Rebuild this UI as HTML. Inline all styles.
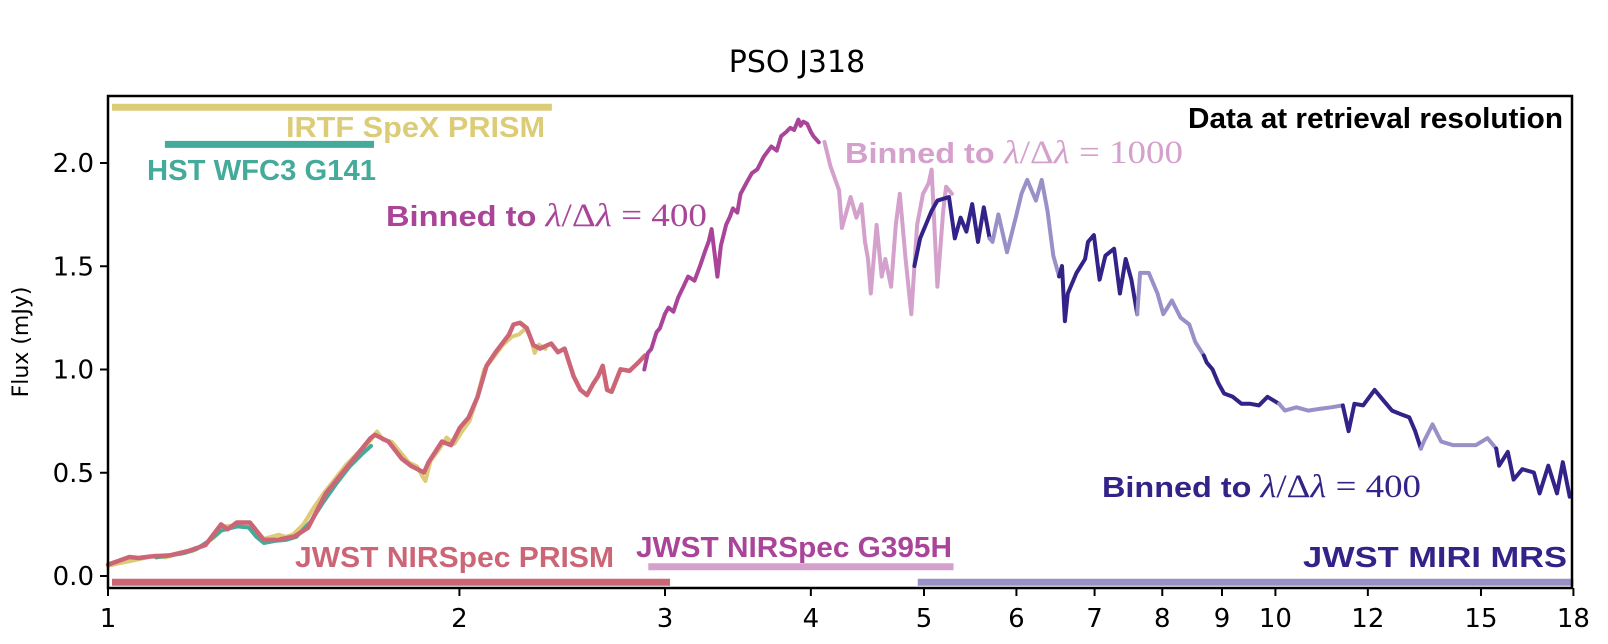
<!DOCTYPE html>
<html><head><meta charset="utf-8"><style>
html,body{margin:0;padding:0;background:#fff;}
svg{display:block;font-family:"DejaVu Sans","Liberation Sans",sans-serif;}
.lb{font-family:"Liberation Sans",sans-serif;font-weight:bold;}
.mt{font-family:"Liberation Serif",serif;font-weight:normal;}
</style></head><body>
<svg id="chart" width="1608" height="644" viewBox="0 0 1608 644" xmlns="http://www.w3.org/2000/svg">
<text x="797" y="72" font-size="30" text-anchor="middle">PSO J318</text>
<text transform="translate(28,342) rotate(-90)" font-size="22" text-anchor="middle">Flux (mJy)</text>
<g id="marks"></g>
<rect x="108" y="96" width="1464" height="492" fill="none" stroke="#000" stroke-width="2.5"/>
<g id="axes"></g>
<g>
<text class="lb" x="286" y="137" font-size="29" fill="#ddcc77" textLength="259" lengthAdjust="spacingAndGlyphs">IRTF SpeX PRISM</text>
<text class="lb" x="147" y="180" font-size="29" fill="#44aa99" textLength="229" lengthAdjust="spacingAndGlyphs">HST WFC3 G141</text>
<text class="lb" x="386" y="226" font-size="29" fill="#aa4499" textLength="321" lengthAdjust="spacingAndGlyphs">Binned to <tspan class="mt" font-size="33"><tspan font-style="italic">λ</tspan>/Δ<tspan font-style="italic">λ</tspan> = 400</tspan></text>
<text class="lb" x="1188" y="128" font-size="29" fill="#000" textLength="375" lengthAdjust="spacingAndGlyphs">Data at retrieval resolution</text>
<text class="lb" x="845" y="163" font-size="29" fill="#d4a0cc" textLength="338" lengthAdjust="spacingAndGlyphs">Binned to <tspan class="mt" font-size="33"><tspan font-style="italic">λ</tspan>/Δ<tspan font-style="italic">λ</tspan> = 1000</tspan></text>
<text class="lb" x="1102" y="497" font-size="29" fill="#332288" textLength="319" lengthAdjust="spacingAndGlyphs">Binned to <tspan class="mt" font-size="33"><tspan font-style="italic">λ</tspan>/Δ<tspan font-style="italic">λ</tspan> = 400</tspan></text>
<text class="lb" x="295" y="567" font-size="29" fill="#cc6677" textLength="319" lengthAdjust="spacingAndGlyphs">JWST NIRSpec PRISM</text>
<text class="lb" x="636" y="557" font-size="29" fill="#aa4499" textLength="316" lengthAdjust="spacingAndGlyphs">JWST NIRSpec G395H</text>
<text class="lb" x="1303" y="567" font-size="29" fill="#332288" textLength="264" lengthAdjust="spacingAndGlyphs">JWST MIRI MRS</text>
</g>
</svg>
<script>
// ---- data ----
var xTicks = [1,2,3,4,5,6,7,8,9,10,12,15,18];
var yTicks = [0.0,0.5,1.0,1.5,2.0];
var bandNames = ["irtf","hst","prism","g395h","miri"];
var bandStart = [1.0,1.11,1.0,2.88,4.9];
var bandEnd = [2.4,1.69,3.03,5.3,18];
var bandFlux = [2.27,2.09,-0.03,0.045,-0.03];
var bandColor = ["#ddcc77","#44aa99","#cc6677","#d4a0cc","#9a90c8"];

var irtfWave = [1.0,1.02,1.04,1.06,1.08,1.1,1.12,1.15,1.18,1.21,1.24,1.26,1.28,1.30,1.32,1.34,1.36,1.38,1.40,1.42,1.44,1.47,1.50,1.53,1.56,1.60,1.64,1.68,1.70,1.72,1.75,1.78,1.81,1.84,1.86,1.87,1.89,1.92,1.95,1.98,2.01,2.04,2.07,2.10,2.14,2.18,2.22,2.25,2.28,2.30,2.32,2.34,2.37];
var irtfFlux = [.05,.06,.07,.08,.09,.10,.09,.11,.12,.15,.20,.24,.245,.25,.245,.22,.18,.19,.20,.19,.20,.25,.33,.40,.46,.54,.60,.66,.70,.66,.65,.60,.55,.53,.48,.46,.56,.61,.67,.64,.70,.75,.86,1.00,1.06,1.12,1.16,1.17,1.20,1.16,1.08,1.12,1.10];
var hstWave = [1.10,1.13,1.16,1.19,1.22,1.25,1.27,1.29,1.32,1.34,1.36,1.39,1.42,1.45,1.49,1.53,1.57,1.61,1.65,1.68];
var hstFlux = [.09,.10,.11,.13,.17,.22,.23,.24,.235,.19,.16,.17,.175,.19,.26,.36,.45,.53,.59,.63];
var prismWave = [1.0,1.005,1.043,1.062,1.090,1.129,1.170,1.212,1.250,1.266,1.289,1.323,1.341,1.359,1.395,1.445,1.484,1.537,1.606,1.678,1.693,1.739,1.785,1.817,1.865,1.882,1.932,1.967,2.002,2.037,2.073,2.110,2.148,2.205,2.225,2.254,2.284,2.314,2.345,2.397,2.429,2.461,2.505,2.539,2.572,2.606,2.629,2.653,2.676,2.700,2.748,2.797,2.846,2.884];
var prismFlux = [.055,.059,.092,.087,.095,.100,.120,.150,.250,.226,.259,.259,.217,.175,.175,.192,.234,.400,.534,.667,.684,.651,.568,.534,.501,.551,.651,.634,.718,.768,.868,1.018,1.084,1.168,1.218,1.226,1.201,1.118,1.101,1.126,1.084,1.101,.967,.901,.876,.934,.967,1.018,.901,.892,1.001,.993,1.034,1.068];
var g395Wave = [2.88,2.90,2.92,2.95,2.97,3.00,3.02,3.05,3.08,3.11,3.14,3.18,3.214,3.25,3.27,3.289,3.31,3.327,3.35,3.384,3.41,3.43,3.46,3.482,3.52,3.56,3.60,3.645,3.70,3.74,3.772,3.81,3.84,3.87,3.903,3.92,3.94,3.971,4.00,4.02,4.063];
var g395Flux = [1.00,1.08,1.10,1.18,1.20,1.27,1.30,1.28,1.35,1.40,1.45,1.43,1.50,1.58,1.62,1.68,1.55,1.45,1.60,1.70,1.74,1.78,1.76,1.85,1.90,1.95,1.97,2.03,2.08,2.06,2.13,2.15,2.17,2.16,2.21,2.18,2.20,2.19,2.15,2.13,2.10];
var g395bWave = [4.109,4.157,4.229,4.253,4.326,4.376,4.42,4.451,4.477,4.502,4.554,4.60,4.633,4.686,4.73,4.767,4.822,4.876,4.933,4.990,5.047,5.076,5.134,5.193,5.223,5.283];
var g395bFlux = [2.102,1.985,1.868,1.685,1.835,1.735,1.80,1.618,1.535,1.368,1.700,1.45,1.535,1.401,1.70,1.851,1.535,1.268,1.700,1.851,1.902,1.968,1.401,1.768,1.885,1.851];
var miriWave = [4.906,4.962,5.076,5.134,5.253,5.313,5.374,5.436,5.499,5.562,5.626,5.691,
 5.724,5.790,5.889,5.991,6.060,6.129,6.235,6.307,6.379,6.453,6.527,
 6.564,6.602,6.640,6.755,6.871,6.910,6.990,7.070,7.151,7.275,7.358,7.443,7.528,7.614,
 7.658,7.790,7.925,8.016,8.154,8.295,8.438,8.536,8.683,
 8.733,8.833,8.934,9.038,9.194,9.353,9.514,9.679,9.845,10.073,
 10.189,10.423,10.665,10.911,11.164,11.421,
 11.552,11.686,11.887,12.161,12.371,12.585,12.802,13.023,13.174,13.325,
 13.401,13.632,13.867,14.188,14.516,14.852,15.195,15.457,
 15.547,15.815,15.996,16.274,16.649,16.840,17.131,17.427,17.627,17.870];
var miriFlux = [1.501,1.635,1.768,1.818,1.835,1.635,1.735,1.668,1.801,1.618,1.785,1.635,
 1.618,1.751,1.568,1.735,1.851,1.918,1.818,1.918,1.768,1.551,1.451,
 1.501,1.234,1.368,1.468,1.535,1.618,1.651,1.435,1.551,1.585,1.368,1.535,1.435,1.268,
 1.468,1.468,1.368,1.268,1.334,1.251,1.218,1.134,1.068,
 1.034,1.001,.934,.884,.868,.834,.834,.826,.868,.834,
 .801,.817,.801,.809,.817,.826,
 .701,.834,.826,.901,.851,.801,.784,.768,.701,.617,
 .651,.734,.651,.634,.634,.634,.668,.617,
 .534,.601,.467,.517,.501,.400,.534,.400,.551,.384];
var miriSegEnd = [5.70,6.54,7.63,8.70,10.10,11.50,13.35,15.50,18.1];
var miriSegColor = ["#332288","#9a90c8","#332288","#9a90c8","#332288","#9a90c8","#332288","#9a90c8","#332288"];

// ---- axes ----
var L=108,R=1572,T=96,B=588,PX=507;
function sx(w){return L+Math.log(w)*PX;}
function sy(f){return 576-f*206.5;}
var NS="http://www.w3.org/2000/svg";
function mk(tag,attrs,parent){var e=document.createElementNS(NS,tag);for(var k in attrs)e.setAttribute(k,attrs[k]);parent.appendChild(e);return e;}
var marks=document.getElementById('marks'), axes=document.getElementById('axes');
function line(ws,fs,color,name,width){
  var d='';for(var i=0;i<ws.length;i++){d+=(i?'L':'M')+sx(ws[i]).toFixed(1)+','+sy(fs[i]).toFixed(1);}
  var p=mk('path',{d:d,fill:'none',stroke:color,'stroke-width':width,'stroke-linejoin':'round','stroke-linecap':'round'},marks);
  
  
}
for(var b=0;b<bandNames.length;b++){
  var r=mk('line',{x1:sx(bandStart[b])+4,x2:sx(bandEnd[b]),y1:sy(bandFlux[b]),y2:sy(bandFlux[b]),stroke:bandColor[b],'stroke-width':7},marks);
  
  
}
line(irtfWave,irtfFlux,'#ddcc77','irtf-spectrum',4);
line(hstWave,hstFlux,'#44aa99','hst-spectrum',4);
line(prismWave,prismFlux,'#cc6677','prism-spectrum',4.5);
line(g395Wave,g395Flux,'#aa4499','g395h-nrs1-spectrum',4);
line(g395bWave,g395bFlux,'#d4a0cc','g395h-nrs2-spectrum',4);
var s=0,cw=[],cf=[];
for(var i=0;i<miriWave.length;i++){
  if(miriWave[i]>miriSegEnd[s]){line(cw,cf,miriSegColor[s],'miri-channel-'+(s+1),4);cw=[cw[cw.length-1]];cf=[cf[cf.length-1]];s++;}
  cw.push(miriWave[i]);cf.push(miriFlux[i]);
}
line(cw,cf,miriSegColor[s],'miri-channel-'+(s+1),4);
for(var i=0;i<xTicks.length;i++){
  var x=sx(xTicks[i]);
  var t=mk('line',{x1:x,x2:x,y1:B,y2:B+8,stroke:'#000','stroke-width':2},axes);
  
  
  var tl=mk('text',{x:x,y:627,'font-size':26,'text-anchor':'middle'},axes);tl.textContent=xTicks[i];
  
  
}
for(var j=0;j<yTicks.length;j++){
  var y=sy(yTicks[j]);
  var t2=mk('line',{x1:L-8,x2:L,y1:y,y2:y,stroke:'#000','stroke-width':2},axes);
  
  
  var yl=mk('text',{x:L-14,y:y+9,'font-size':26,'text-anchor':'end'},axes);yl.textContent=yTicks[j].toFixed(1);
  
  
}
</script>
</body></html>
